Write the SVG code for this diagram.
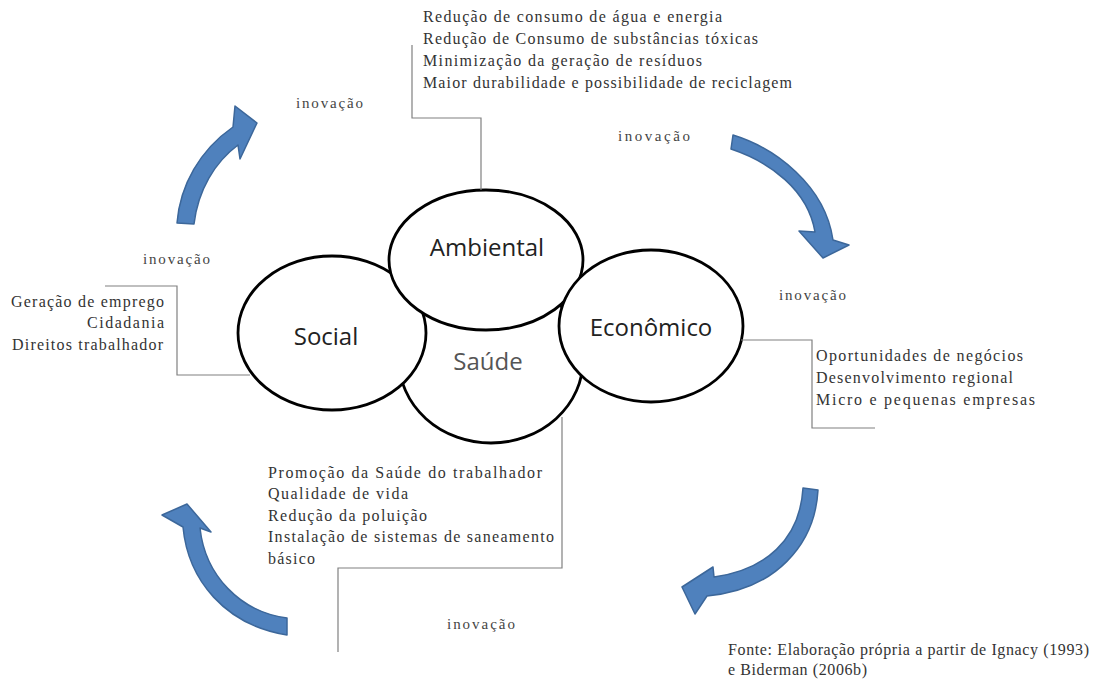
<svg xmlns="http://www.w3.org/2000/svg" width="1094" height="680" viewBox="0 0 1094 680">
<style>
.ell{fill:#fff;stroke:#000;stroke-width:2.8}
.lbl{font-family:"Open Sans","Liberation Sans",sans-serif;font-size:24px;fill:#222;text-anchor:middle}
.txt{font-family:"Liberation Serif","Times New Roman",serif;font-size:16px;fill:#333}
.ino{font-family:"Liberation Serif","Times New Roman",serif;font-size:15px;fill:#444}
.con{fill:none;stroke:#808080;stroke-width:1.2}
.arr{fill:#4F81BD;stroke:#3C679A;stroke-width:1.5;stroke-linejoin:round}
</style>
<rect width="1094" height="680" fill="#fff"/>

<g id="node-saude">
<ellipse class="ell" cx="491" cy="360" rx="92" ry="83"/>
</g>
<g id="node-social">
<ellipse class="ell" cx="332" cy="333" rx="94" ry="77"/>
<text class="lbl" x="326" y="345">Social</text>
</g>
<g id="node-ambiental">
<ellipse class="ell" cx="486" cy="260" rx="97" ry="70"/>
<text class="lbl" x="487" y="256">Ambiental</text>
</g>
<g id="node-economico">
<ellipse class="ell" cx="651" cy="326" rx="92" ry="76"/>
<text class="lbl" x="651" y="336">Econômico</text>
</g>
<g id="label-saude">
<text class="lbl" x="488" y="370" style="fill:#555">Saúde</text>
</g>

<g id="connectors">
<polyline class="con" points="481,190 481,118 412,118 412,45"/>
<polyline class="con" points="105,286 177,286 177,375 250,375"/>
<polyline class="con" points="741,340 812,340 812,428 875,428"/>
<polyline class="con" points="562,417 562,568 338,568 338,652"/>
</g>

<g id="arrows">
<path class="arr" d="M177,223 C180,185 200,150 233,127 L235,106 L257,123 L240,159 L238,145 C215,162 198,190 194,224 Z"/>
<path class="arr" d="M733,135 C775,148 825,185 833,240 L849,245 L823,258 L799,231 L815,232 C808,190 770,162 731,149 Z"/>
<path class="arr" d="M818,490 C815,545 775,590 707,596 L695,614 L682,587 L713,567 L714,577 C765,570 800,540 803,488 Z"/>
<path class="arr" d="M287,635 C225,625 188,580 183,527 L162,515 L187,504 L211,532 L200,528 C205,575 240,612 287,618 Z"/>
</g>

<g id="text-ambiental">
<text class="txt" x="423" y="22" textLength="299" lengthAdjust="spacing">Redução de consumo de água e energia</text>
<text class="txt" x="423" y="44" textLength="335" lengthAdjust="spacing">Redução de Consumo de substâncias tóxicas</text>
<text class="txt" x="423" y="66" textLength="279" lengthAdjust="spacing">Minimização  da geração de resíduos</text>
<text class="txt" x="423" y="88" textLength="369" lengthAdjust="spacing">Maior durabilidade e possibilidade de reciclagem</text>
</g>
<g id="text-social">
<text class="txt" x="11" y="307" textLength="153" lengthAdjust="spacing">Geração de emprego</text>
<text class="txt" x="87" y="328" textLength="77" lengthAdjust="spacing">Cidadania</text>
<text class="txt" x="12" y="350" textLength="151" lengthAdjust="spacing">Direitos trabalhador</text>
</g>
<g id="text-economico">
<text class="txt" x="816" y="361" textLength="207" lengthAdjust="spacing">Oportunidades de negócios</text>
<text class="txt" x="816" y="383" textLength="197" lengthAdjust="spacing">Desenvolvimento regional</text>
<text class="txt" x="816" y="405" textLength="219" lengthAdjust="spacing">Micro e pequenas empresas</text>
</g>
<g id="text-saude">
<text class="txt" x="268" y="478" textLength="274" lengthAdjust="spacing">Promoção da Saúde do trabalhador</text>
<text class="txt" x="268" y="499" textLength="140" lengthAdjust="spacing">Qualidade de vida</text>
<text class="txt" x="268" y="521" textLength="159" lengthAdjust="spacing">Redução da poluição</text>
<text class="txt" x="268" y="542" textLength="286" lengthAdjust="spacing">Instalação de sistemas de saneamento</text>
<text class="txt" x="268" y="564" textLength="47" lengthAdjust="spacing">básico</text>
</g>
<g id="inovacao">
<text class="ino" x="296" y="108" textLength="67" lengthAdjust="spacing">inovação</text>
<text class="ino" x="618" y="141" textLength="72" lengthAdjust="spacing">inovação</text>
<text class="ino" x="143" y="264" textLength="67" lengthAdjust="spacing">inovação</text>
<text class="ino" x="779" y="300" textLength="67" lengthAdjust="spacing">inovação</text>
<text class="ino" x="447" y="629" textLength="68" lengthAdjust="spacing">inovação</text>
</g>
<g id="source">
<text class="txt" x="728" y="655" textLength="361" lengthAdjust="spacing">Fonte: Elaboração própria a partir de Ignacy (1993)</text>
<text class="txt" x="728" y="675" textLength="139" lengthAdjust="spacing">e Biderman (2006b)</text>
</g>
</svg>
